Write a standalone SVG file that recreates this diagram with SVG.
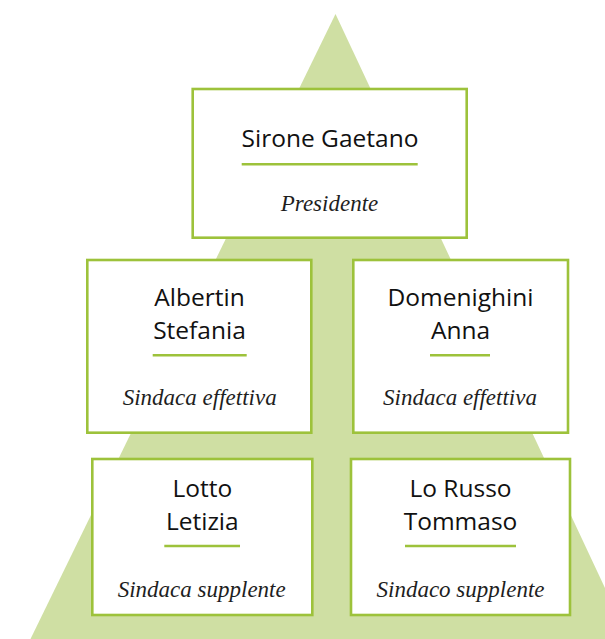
<svg xmlns="http://www.w3.org/2000/svg" width="605" height="639" viewBox="0 0 605 639">
  <style>
    .box { fill: #ffffff; stroke: #9dc23b; stroke-width: 2.6; }
    .rule { stroke: #9dc23b; stroke-width: 2.6; }
    .name { font-family: "Open Sans", "Liberation Sans", sans-serif; font-size: 24.5px; font-weight: 500; fill: #111111; text-anchor: middle; }
    .role { font-family: "Liberation Serif", "DejaVu Serif", serif; font-style: italic; font-size: 23px; fill: #1e1e1e; text-anchor: middle; }
  </style>

  <!-- background pyramid -->
  <polygon id="pyramid" points="335.5,14 30.5,639 629,639" fill="#cfdfa3"/>

  <!-- president -->
  <g id="node-sirone">
    <rect class="box" x="192.7" y="89" width="274" height="148.7"/>
    <text class="name" x="330" y="147.3">Sirone Gaetano</text>
    <line class="rule" x1="241.7" y1="164.3" x2="417.7" y2="164.3"/>
    <text class="role" x="329.5" y="210.7">Presidente</text>
  </g>

  <!-- effective auditors -->
  <g id="node-albertin">
    <rect class="box" x="87.3" y="260" width="224" height="172.7"/>
    <text class="name" x="199.5" y="306">Albertin</text>
    <text class="name" x="199.5" y="339.3">Stefania</text>
    <line class="rule" x1="152.7" y1="355.3" x2="246.7" y2="355.3"/>
    <text class="role" x="199.7" y="405">Sindaca effettiva</text>
  </g>

  <g id="node-domenighini">
    <rect class="box" x="353.3" y="260" width="214.7" height="172.7"/>
    <text class="name" x="460.5" y="306">Domenighini</text>
    <text class="name" x="460.5" y="339.3">Anna</text>
    <line class="rule" x1="430" y1="355.3" x2="490" y2="355.3"/>
    <text class="role" x="460" y="405">Sindaca effettiva</text>
  </g>

  <!-- substitute auditors -->
  <g id="node-lotto">
    <rect class="box" x="92.3" y="459" width="220" height="156"/>
    <text class="name" x="202.3" y="497.3">Lotto</text>
    <text class="name" x="202.3" y="530">Letizia</text>
    <line class="rule" x1="164.3" y1="546" x2="240" y2="546"/>
    <text class="role" x="201.7" y="596.7">Sindaca supplente</text>
  </g>

  <g id="node-lorusso">
    <rect class="box" x="351" y="459" width="219" height="156"/>
    <text class="name" x="460.5" y="497.3">Lo Russo</text>
    <text class="name" x="460.5" y="530">Tommaso</text>
    <line class="rule" x1="405" y1="546" x2="516" y2="546"/>
    <text class="role" x="460.5" y="596.7">Sindaco supplente</text>
  </g>

  <g id="connectors"/>
</svg>
